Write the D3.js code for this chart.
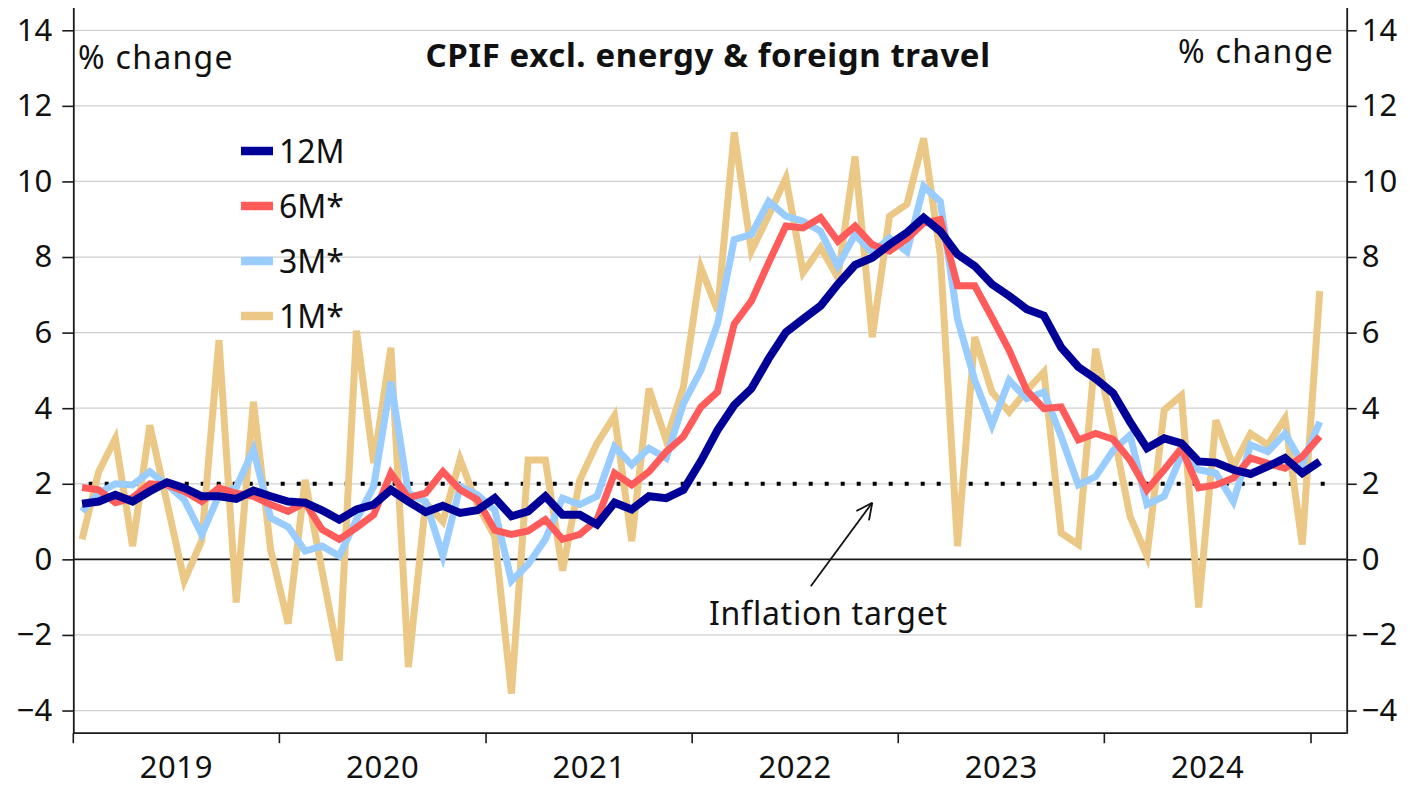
<!DOCTYPE html>
<html>
<head>
<meta charset="utf-8">
<script src="https://cdn.jsdelivr.net/npm/d3@7"></script>
<style>
  html, body { margin: 0; padding: 0; background: #fff; }
  svg { display: block; font-family: "Noto Sans", sans-serif; }
</style>
</head>
<body>
<svg id="chart" width="1410" height="788"></svg>
<script>
// ---------- data (monthly, Jan 2019 – Jan 2025) ----------
const startMonth = "2019-01";
const seriesNames = ["12M", "6M*", "3M*", "1M*"];
const seriesColors = ["#000099", "#ff5b5b", "#99ccff", "#ebc886"];

const m12 = [
  1.47, 1.53, 1.71, 1.53, 1.80, 2.04, 1.89, 1.67, 1.67, 1.60, 1.82, 1.67,
  1.53, 1.50, 1.30, 1.05, 1.32, 1.45, 1.84, 1.53, 1.25, 1.42, 1.23, 1.30,
  1.62, 1.14, 1.27, 1.67, 1.18, 1.18, 0.92, 1.50, 1.32, 1.67, 1.62, 1.84,
  2.60, 3.42, 4.08, 4.52, 5.31, 6.01, 6.36, 6.71, 7.28, 7.79, 7.98, 8.33,
  8.65, 9.04, 8.68, 8.07, 7.76, 7.28, 6.97, 6.62, 6.45, 5.61, 5.09, 4.78,
  4.40, 3.64, 2.94, 3.20, 3.07, 2.59, 2.56, 2.37, 2.26, 2.46, 2.68, 2.28,
  2.59
];
const m6 = [
  1.90, 1.84, 1.50, 1.63, 2.00, 1.97, 1.80, 1.53, 1.89, 1.75, 1.67, 1.45,
  1.27, 1.50, 0.79, 0.53, 0.84, 1.18, 2.28, 1.63, 1.75, 2.32, 1.84, 1.58,
  0.77, 0.66, 0.75, 1.05, 0.53, 0.66, 1.05, 2.28, 1.97, 2.32, 2.85, 3.25,
  4.03, 4.43, 6.23, 6.84, 7.85, 8.82, 8.77, 9.04, 8.42, 8.82, 8.33, 8.16,
  8.48, 8.90, 8.99, 7.24, 7.24, 6.40, 5.53, 4.47, 3.99, 4.03, 3.16, 3.33,
  3.18, 2.63, 1.84, 2.37, 2.94, 1.89, 1.97, 2.15, 2.68, 2.54, 2.41, 2.72,
  3.25
];
const m3 = [
  1.27, 1.75, 2.00, 1.97, 2.32, 1.97, 1.58, 0.66, 1.70, 1.90, 2.90, 1.10,
  0.86, 0.22, 0.35, 0.09, 1.05, 1.93, 4.70, 1.75, 1.53, 0.09, 1.93, 1.71,
  1.30, -0.57, -0.13, 0.53, 1.62, 1.45, 1.67, 2.98, 2.50, 2.94, 2.68, 4.12,
  5.00, 6.23, 8.46, 8.60, 9.47, 9.08, 8.95, 8.68, 7.76, 8.60, 8.11, 8.50,
  8.14, 9.87, 9.47, 6.36, 4.74, 3.55, 4.74, 4.25, 4.43, 3.25, 1.97, 2.19,
  2.88, 3.29, 1.45, 1.67, 2.76, 2.37, 2.28, 1.53, 3.03, 2.85, 3.33, 2.54,
  3.64
];
const m1 = [
  0.53, 2.32, 3.20, 0.35, 3.55, 1.50, -0.57, 0.50, 5.80, -1.14, 4.17, 0.26,
  -1.70, 2.10, -0.30, -2.68, 6.05, 2.55, 5.60, -2.85, 1.50, 1.00, 2.65, 1.45,
  0.60, -3.55, 2.63, 2.63, -0.30, 2.10, 3.07, 3.80, 0.48, 4.52, 3.15, 4.56,
  7.72, 6.58, 11.30, 8.16, 9.10, 10.09, 7.59, 8.25, 7.46, 10.66, 5.88, 9.08,
  9.40, 11.14, 8.05, 0.35, 5.88, 4.43, 3.90, 4.47, 4.96, 0.70, 0.39, 5.57,
  3.40, 1.14, 0.09, 3.95, 4.34, -1.27, 3.68, 2.46, 3.33, 3.03, 3.73, 0.39,
  7.10
];

const yTicks = [-4, -2, 0, 2, 4, 6, 8, 10, 12, 14];
const yearLabels = ["2019", "2020", "2021", "2022", "2023", "2024"];
const inflationTarget = 2;

const titleText = "CPIF excl. energy & foreign travel";
const unitText = "% change";
const annotationText = "Inflation target";

// ---------- layout ----------
const svg = d3.select("#chart");
const left = 73.3, right = 1346.7, axisY = 733.2;
const fontSize = 31;
const textSize = 32;

const parse = d3.timeParse("%Y-%m");
const t0 = parse(startMonth);
const dates = m12.map((_, i) => d3.timeMonth.offset(t0, i));

const x = d3.scaleTime()
  .domain([new Date(2019, 0, 1), new Date(2025, 0, 1)])
  .range([73.3, 1311]);
const y = d3.scaleLinear().domain([-4.6, 14.6]).range([axisY, 7.6]);

const xMid = d => (x(d) + x(d3.timeMonth.offset(d, 1))) / 2;

// gridlines
svg.append("g").selectAll("line").data(yTicks.filter(v => v !== 0)).join("line")
  .attr("x1", left).attr("x2", right)
  .attr("y1", d => y(d)).attr("y2", d => y(d))
  .attr("stroke", "#cfcfcf").attr("stroke-width", 1.3);

// zero line
svg.append("line")
  .attr("x1", left).attr("x2", right).attr("y1", y(0)).attr("y2", y(0))
  .attr("stroke", "#1a1a1a").attr("stroke-width", 1.8);

// inflation target dotted line
svg.append("line")
  .attr("x1", 88.7).attr("x2", 1326).attr("y1", y(inflationTarget)).attr("y2", y(inflationTarget))
  .attr("stroke", "#000").attr("stroke-width", 4).attr("stroke-dasharray", "4 12");

// series lines
const allSeries = [m12, m6, m3, m1];
const widths = [8, 7, 7, 7];
const line = d3.line().x((d, i) => xMid(dates[i])).y(d => y(d));
[3, 2, 1, 0].forEach(k => {
  svg.append("path").datum(allSeries[k])
    .attr("d", line)
    .attr("fill", "none")
    .attr("stroke", seriesColors[k])
    .attr("stroke-width", widths[k])
    .attr("stroke-linejoin", "miter")
    .attr("stroke-linecap", "butt");
});

// axes
function styleAxis(g) {
  g.selectAll("path.domain").attr("stroke", "#1a1a1a").attr("stroke-width", 1.8);
  g.selectAll(".tick line").attr("stroke", "#1a1a1a").attr("stroke-width", 1.6);
  g.selectAll(".tick text").attr("fill", "#111").attr("font-size", fontSize)
    .attr("font-family", "'Noto Sans', sans-serif");
}
const yAxisL = d3.axisLeft(y).tickValues(yTicks).tickSizeInner(11).tickSizeOuter(0).tickPadding(10)
  .tickFormat(d3.format("d"));
svg.append("g").attr("transform", `translate(${left},0)`).call(yAxisL).call(styleAxis);

const yAxisR = d3.axisRight(y).tickValues(yTicks).tickSizeInner(10).tickSizeOuter(0).tickPadding(5)
  .tickFormat(d3.format("d"));
svg.append("g").attr("transform", `translate(${right},0)`).call(yAxisR).call(styleAxis);

// bottom axis
const yearDates = d3.range(2019, 2026).map(yr => new Date(yr, 0, 1));
const gx = svg.append("g");
gx.append("line").attr("x1", left).attr("x2", right).attr("y1", axisY).attr("y2", axisY)
  .attr("stroke", "#1a1a1a").attr("stroke-width", 1.8);
gx.selectAll("line.tk").data(yearDates).join("line").attr("class", "tk")
  .attr("x1", d => x(d)).attr("x2", d => x(d)).attr("y1", axisY).attr("y2", axisY + 10)
  .attr("stroke", "#1a1a1a").attr("stroke-width", 1.6);
gx.selectAll("text").data(yearLabels).join("text")
  .attr("x", (d, i) => (x(yearDates[i]) + x(yearDates[i + 1])) / 2)
  .attr("y", 778)
  .attr("text-anchor", "middle").attr("font-size", fontSize).attr("fill", "#111")
  .attr("letter-spacing", 0.6)
  .text(d => d);

// titles
svg.append("text").attr("x", 708).attr("y", 67).attr("text-anchor", "middle")
  .attr("font-size", 33).attr("font-weight", "bold").attr("fill", "#111")
  .attr("letter-spacing", 0.6).text(titleText);
svg.append("text").attr("x", 78).attr("y", 69).attr("font-size", textSize).attr("fill", "#111")
  .attr("letter-spacing", 1.3).text(unitText);
svg.append("text").attr("x", 1334).attr("y", 63).attr("text-anchor", "end")
  .attr("font-size", textSize).attr("fill", "#111").attr("letter-spacing", 1.3).text(unitText);

// legend
const lg = svg.append("g");
seriesNames.forEach((name, i) => {
  const cy = 151 + i * 55;
  lg.append("line").attr("x1", 241).attr("x2", 273).attr("y1", cy).attr("y2", cy)
    .attr("stroke", seriesColors[i]).attr("stroke-width", 8.5);
  lg.append("text").attr("x", 279).attr("y", cy + 12).attr("font-size", textSize)
    .attr("fill", "#111").text(name);
});

// annotation
const tip = [xMid(new Date(2022, 10, 1)), y(1.5)];
const tail = [tip[0] - 61.5, tip[1] + 83.5];
svg.append("line").attr("x1", tail[0]).attr("y1", tail[1]).attr("x2", tip[0]).attr("y2", tip[1])
  .attr("stroke", "#111").attr("stroke-width", 1.8);
const ang = Math.atan2(tip[1] - tail[1], tip[0] - tail[0]);
[-0.45, 0.45].forEach(a => {
  svg.append("line").attr("x1", tip[0]).attr("y1", tip[1])
    .attr("x2", tip[0] - 18 * Math.cos(ang + a)).attr("y2", tip[1] - 18 * Math.sin(ang + a))
    .attr("stroke", "#111").attr("stroke-width", 1.8);
});
svg.append("text").attr("x", 709).attr("y", 625).attr("font-size", textSize).attr("fill", "#111")
  .attr("letter-spacing", 0.75).text(annotationText);
</script>
</body>
</html>
